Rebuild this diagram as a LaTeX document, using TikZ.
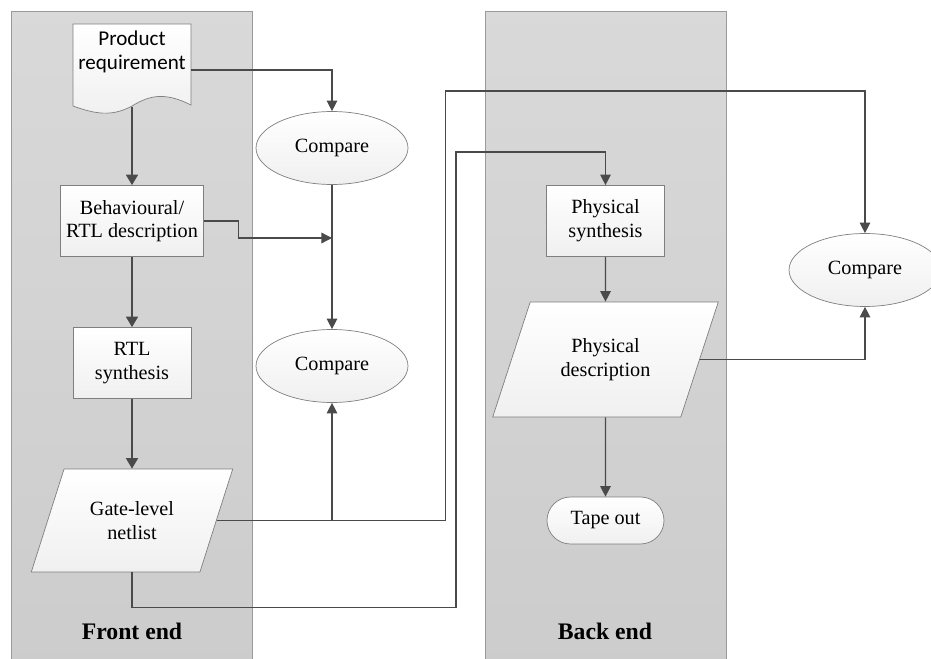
\documentclass[tikz,border=0pt]{standalone}
\usepackage{fontspec}
\setmainfont{Liberation Serif}
\newfontfamily\calibri{Carlito}
\usetikzlibrary{arrows.meta,positioning,calc,shapes.geometric}
\definecolor{lnA}{HTML}{4A4A4A}
\definecolor{bdA}{HTML}{7F7F7F}
\definecolor{lnB}{HTML}{9A9A9A}

\begin{document}
\begin{tikzpicture}[x=0.02cm,y=-0.02cm,
  every node/.style={font=\fontsize{11.5}{13.5}\selectfont,align=center},
  fill box/.style={draw=bdA,top color=white,bottom color=gray!12},
  procbox/.style={fill box,rectangle,minimum width=2.36cm,minimum height=1.42cm,inner sep=1pt},
  cmpnode/.style={fill box,ellipse,minimum width=3.04cm,minimum height=1.46cm},
  databox/.style={fill box,trapezium,trapezium left angle=63,trapezium right angle=117,
    trapezium stretches=true,inner sep=1pt},
  conn/.style={draw=lnA,line width=0.75pt,-{Triangle[length=6pt,width=6pt]}},
  mainconn/.style={conn,line width=1.05pt,-{Triangle[length=6pt,width=6.8pt]}},
  lane/.style={draw=lnB,top color=gray!30,bottom color=gray!40}]
\useasboundingbox (0,0) rectangle (931,659);
% swim lanes
\path[lane] (11,11) rectangle (252,680);
\path[lane] (485,11) rectangle (726,680);
\node[font=\fontsize{13.5}{16}\selectfont\bfseries] (frontlbl) at (132,631) {Front end};
\node[font=\fontsize{13.5}{16}\selectfont\bfseries] (backlbl) at (605,631) {Back end};

% document shape
\draw[bdA,top color=white,bottom color=gray!12] (73,24) -- (191,24) -- (191,105)
  .. controls (165,92) and (150,95) .. (132,106) .. controls (112,117) and (95,114) .. (73,106) -- cycle;
\node[font=\calibri\fontsize{12}{14}\selectfont] (prodreq) at (132,52) {Product\\requirement};
\coordinate (reqout) at (191,70);
\coordinate (reqbot) at (132,107);

\node[procbox,minimum width=2.86cm] (behav) at (132,221) {Behavioural/\\RTL description};
\node[procbox] (rtlsyn) at (132,363) {RTL\\synthesis};
\node[databox,minimum width=4.04cm,minimum height=2.06cm] (gatenet) at (132,520.5) {Gate-level\\netlist};

\node[cmpnode] (cmpA) at (332,148) {Compare};
\node[cmpnode] (cmpB) at (332,366) {Compare};
\node[cmpnode] (cmpC) at (865,270) {Compare};

\node[procbox] (physyn) at (605.5,221) {Physical\\synthesis};
\node[databox,minimum width=4.54cm,minimum height=2.3cm] (physdesc) at (605.5,359.5) {Physical\\description};
\node[fill box,rectangle,rounded corners=0.47cm,minimum width=2.34cm,minimum height=0.94cm] (tapeout) at (605.5,520.5) {Tape out};

% flow
\draw[mainconn] (reqbot) -- (behav);
\draw[mainconn] (behav) -- (rtlsyn);
\draw[mainconn] (rtlsyn) -- (gatenet);
\draw[conn] (reqout) -| (cmpA.north);
\draw[conn] (cmpA) -- (cmpB);
\coordinate (behjoin) at (332,238);
\draw[conn] (behav.east) -- ++(35,0) |- (behjoin);
\draw[conn] (gatenet.east) -- ++(228.5,0) |- ($(cmpC.north)+(0,-142)$) -- (cmpC.north);
\draw[conn] (cmpB.south |- gatenet.east) -- (cmpB.south);
\draw[conn] (gatenet.south) -- ++(0,35) -| ($(physyn.north)+(-149.5,-33)$) -| (physyn.north);
\draw[conn] (physyn) -- (physdesc);
\draw[conn] (physdesc.east) -| (cmpC.south);
\draw[conn] (physdesc) -- (tapeout);
\end{tikzpicture}
\end{document}
